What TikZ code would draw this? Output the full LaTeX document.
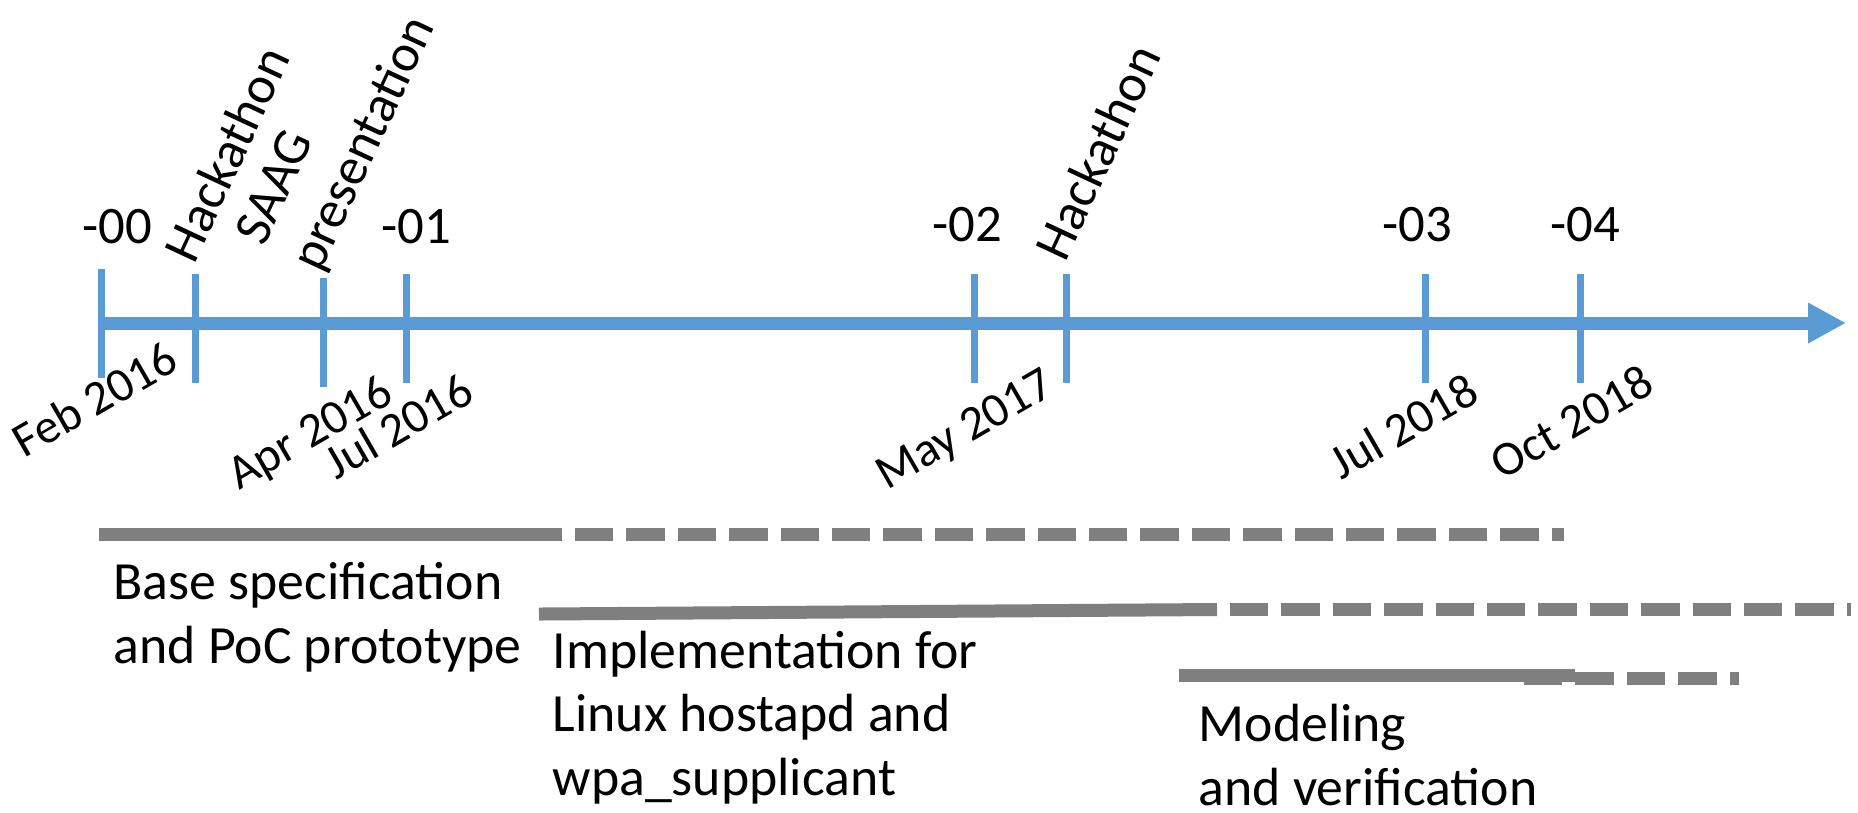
\documentclass[tikz,border=0pt]{standalone}
\usepackage{fontspec}
\setmainfont{Carlito}
\usetikzlibrary{arrows.meta,positioning}
\definecolor{axisblue}{HTML}{5B9BD5}
\definecolor{bargray}{HTML}{7F7F7F}

\begin{document}
\begin{tikzpicture}[
    x=0.1mm, y=-0.1mm,
    font=\fontsize{15pt}{18pt}\selectfont,
    axisline/.style={axisblue, line width=1.3mm, -{Triangle[length=3.8mm, width=3.8mm]}},
    tickmark/.style={fill=axisblue, inner sep=0pt, minimum width=0.7mm, minimum height=10.9mm},
    ver/.style={inner sep=0pt},
    event/.style={inner sep=0pt, align=left, rotate=65, anchor=base west, font=\fontsize{15pt}{17.6pt}\selectfont},  % rotated notes above the axis
    datelbl/.style={inner sep=0pt, rotate=30, anchor=base west, font=\fontsize{13.8pt}{16pt}\selectfont},       % dates below the axis
    task/.style={inner sep=0pt, align=left, anchor=base west, font=\fontsize{15.3pt}{18pt}\selectfont},  % anchored on the last line
    bar/.style={bargray, line width=1.3mm},
    todo/.style={bar, dash pattern=on 3.84mm off 1.3mm}
  ]
  \useasboundingbox (0,0) rectangle (1858,812);

% --- Ticks on the time axis ---
    \node[tickmark] (t00)   at (101,323)    {};
    \node[tickmark] (thk1)  at (195,328.5)  {};
    \node[tickmark] (tsaag) at (323,332.5)  {};
    \node[tickmark] (t01)   at (406,328.5)  {};
    \node[tickmark] (t02)   at (974,328.5)  {};
    \node[tickmark] (thk2)  at (1066,328.5) {};
    \node[tickmark] (t03)   at (1425,328.5) {};
    \node[tickmark] (t04)   at (1580,328.5) {};

% --- Axis ---
    \coordinate (tip) at (1846,323);
    \draw[axisline] (t00.center) -- (tip);

% --- Draft versions ---
    \node[ver, above=2.3mm of t00, xshift=1.6mm]  (v00) {-00};
    \node[ver, above=2.9mm of t01, xshift=1.0mm]  (v01) {-01};
    \node[ver, above=3.1mm of t02, xshift=-0.7mm] (v02) {-02};
    \node[ver, above=3.1mm of t03, xshift=-0.8mm] (v03) {-03};
    \node[ver, above=3.1mm of t04, xshift=0.5mm]  (v04) {-04};

% --- Events ---
    \node[event] (hk1)  at (194,266)  {Hackathon};
    \node[event] (saag) at (320,274)  {SAAG\\presentation};
    \node[event] (hk2)  at (1065,264) {Hackathon};

% --- Dates ---
    \node[datelbl] (dfeb)  at (24,459)   {Feb 2016};
    \node[datelbl] (dapr)  at (239,491)  {Apr 2016};
    \node[datelbl] (djul)  at (336,481)  {Jul 2016};
    \node[datelbl] (dmay)  at (887,491)  {May 2017};
    \node[datelbl] (djul2) at (1341,481) {Jul 2018};
    \node[datelbl] (doct)  at (1502,481) {Oct 2018};

% --- Work items: solid = done, dashed = ongoing ---
    \draw[bar]  (99,534.5) -- (562,534.5);
    \draw[todo] (575,534.5) -- (1564,534.5);
    \node[task] (spec) at (113,663) {Base specification\\and PoC prototype};

    \draw[bar]  (539,614) -- (1217,609.5);
    \draw[todo] (1230,609.5) -- (1851,609.5);
    \node[task] (impl) at (552,795) {Implementation for\\Linux hostapd and\\wpa\_supplicant};

    \draw[bar]  (1179,675.5) -- (1575,675.5);
    \draw[todo] (1524,678) -- (1739,678);
    \node[task] (model) at (1198,805) {Modeling\\and verification};

  \end{tikzpicture}
\end{document}
